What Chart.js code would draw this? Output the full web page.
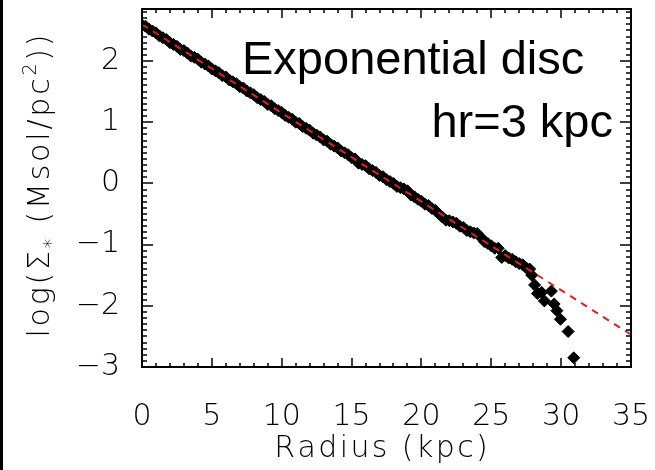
<!DOCTYPE html>
<html>
<head>
<meta charset="utf-8">
<script src="https://cdn.jsdelivr.net/npm/chart.js@4/dist/chart.umd.min.js"></script>
<style>
html,body{margin:0;padding:0;background:#fff;}
#wrap{position:relative;width:655px;height:470px;}
#strip{position:absolute;left:0;top:0;width:3px;height:470px;background:#000;}
</style>
</head>
<body>
<div id="wrap"><canvas id="chart" width="655" height="470"></canvas><div id="strip"></div></div>
<script>
/* DATA */
const radius=[
0,0.25,0.5,0.75,1,1.25,1.5,1.75,2,2.25,2.5,2.75,3,3.25,3.5,3.75,4,4.25,4.5,4.75,
5,5.25,5.5,5.75,6,6.25,6.5,6.75,7,7.25,7.5,7.75,8,8.25,8.5,8.75,9,9.25,9.5,9.75,
10,10.25,10.5,10.75,11,11.25,11.5,11.75,12,12.25,12.5,12.75,13,13.25,13.5,13.75,14,14.25,14.5,14.75,
15,15.25,15.5,15.75,16,16.25,16.5,16.75,17,17.25,17.5,17.75,18,18.25,18.5,18.75,19,19.25,19.5,19.75,
20,20.25,20.5,20.75,21,21.25,21.5,21.75,22,22.25,22.5,22.75,23,23.25,23.5,23.75,24,24.25,24.5,24.75,
25,25.25,25.5,25.75,26,26.25,26.5,26.75,27,27.25,27.5,27.75,
27.9,28.1,28.3,28.6,28.8,29.3,29.5,29.7,29.95,30.5,30.9
];
const logSigma=[
2.59,2.57,2.52,2.49,2.46,2.41,2.38,2.35,2.30,2.27,2.24,2.19,2.17,2.13,2.08,2.06,2.03,1.98,1.95,1.92,
1.87,1.84,1.81,1.76,1.74,1.69,1.66,1.63,1.58,1.56,1.51,1.48,1.45,1.40,1.37,1.34,1.29,1.27,1.22,1.19,
1.16,1.11,1.08,1.05,1.00,0.98,0.93,0.90,0.87,0.82,0.79,0.76,0.71,0.69,0.64,0.61,0.58,0.53,0.50,0.47,
0.42,0.40,0.33,0.31,0.29,0.24,0.21,0.18,0.13,0.11,0.06,0.03,0.00,-0.05,-0.07,-0.09,-0.12,-0.19,-0.22,-0.26,
-0.29,-0.34,-0.36,-0.41,-0.44,-0.50,-0.55,-0.60,-0.61,-0.63,-0.65,-0.70,-0.72,-0.77,-0.79,-0.81,-0.82,-0.88,-0.95,-0.98,
-1.02,-1.06,-1.06,-1.21,-1.18,-1.22,-1.24,-1.28,-1.31,-1.33,-1.38,-1.40,
-1.50,-1.66,-1.80,-1.78,-1.92,-1.76,-1.97,-2.08,-2.22,-2.42,-2.85
];
const fitRadius=[0,35];
const fitLogSigma=[2.6,-2.47];
const xTicks=[0,5,10,15,20,25,30,35];
const yTicks=[-3,-2,-1,0,1,2];

const tickFont={family:"'DejaVu Sans'",size:30,weight:200};

/* draw text char by char with extra spacing */
function spaced(ctx,parts,spacing){
let w=0;
parts.forEach(p=>{
ctx.font=`200 ${p[1]}px 'DejaVu Sans'`;
for(const ch of p[0]) w+=ctx.measureText(ch).width+spacing;
});
w-=spacing;
let x=-w/2;
parts.forEach(p=>{
ctx.font=`200 ${p[1]}px 'DejaVu Sans'`;
for(const ch of p[0]){
ctx.fillText(ch,x,p[2]);
x+=ctx.measureText(ch).width+spacing;
}
});
}

const frame={
id:"frame",
afterDatasetsDraw(chart){
const {ctx,chartArea:a,scales:{x,y}}=chart;
ctx.save();
ctx.strokeStyle="#000";
ctx.lineWidth=1.5;
ctx.beginPath();
for(let v=0;v<=35;v++){
const px=Math.round(x.getPixelForValue(v));
const len=v%5?4:9;
ctx.moveTo(px,a.bottom);ctx.lineTo(px,a.bottom-len);
ctx.moveTo(px,a.top);ctx.lineTo(px,a.top+len);
}
for(let i=-30;i<=28;i++){
const py=Math.round(y.getPixelForValue(i/10));
const len=i%10?5:11;
ctx.moveTo(a.left,py);ctx.lineTo(a.left+len,py);
ctx.moveTo(a.right,py);ctx.lineTo(a.right-len,py);
}
ctx.stroke();
ctx.lineWidth=2;
ctx.strokeRect(a.left,a.top,a.right-a.left,a.bottom-a.top);
ctx.restore();
},
afterDraw(chart){
const {ctx,chartArea:a}=chart;
ctx.save();
ctx.fillStyle="#000";
ctx.textBaseline="alphabetic";
/* x title */
ctx.save();
ctx.translate(381,457);
spaced(ctx,[["Radius (kpc)",30,0]],2.4);
ctx.restore();
/* y title */
ctx.save();
ctx.translate(49,186);
ctx.rotate(-Math.PI/2);
spaced(ctx,[["log(\u03A3",30,0],["*",19,8],[" (Msol/pc",30,0],["2",19,-13],["))",30,0]],2.8);
ctx.restore();
/* labels */
ctx.font="47px 'Liberation Sans', Arial, sans-serif";
ctx.textAlign="left";
ctx.fillText("Exponential disc",242,74);
ctx.textAlign="right";
ctx.fillText("hr=3 kpc",613,137);
ctx.restore();
}
};

new Chart(document.getElementById("chart"),{
type:"scatter",
data:{
datasets:[
{
label:"fit",
data:fitRadius.map((r,i)=>({x:r,y:fitLogSigma[i]})),
showLine:true,
borderColor:"#e3201c",
borderWidth:2,
borderDash:[7,6],
pointRadius:0,
order:0,
clip:0
},
{
label:"profile",
data:radius.map((r,i)=>({x:r,y:logSigma[i]})),
pointStyle:"rectRot",
pointRadius:6,
backgroundColor:"#000",
borderColor:"#000",
borderWidth:1,
order:1,
clip:0
}
]
},
options:{
responsive:false,
animation:false,
devicePixelRatio:1,
layout:{padding:{top:9,right:24,left:0,bottom:0}},
plugins:{legend:{display:false},tooltip:{enabled:false}},
scales:{
x:{
type:"linear",
min:0,max:35,
afterBuildTicks:s=>{s.ticks=xTicks.map(v=>({value:v}));},
afterFit:s=>{s.height=103;s.paddingLeft=0;s.paddingRight=0;},
grid:{display:false},
border:{display:false},
ticks:{color:"#000",font:tickFont,padding:24,maxRotation:0,autoSkip:false}
},
y:{
type:"linear",
min:-3,max:2.85,
afterBuildTicks:s=>{s.ticks=yTicks.map(v=>({value:v}));},
afterFit:s=>{s.width=142;s.paddingTop=0;s.paddingBottom=0;},
grid:{display:false},
border:{display:false},
ticks:{color:"#000",font:tickFont,padding:14,callback:v=>v<0?"\u2212"+(-v):String(v)}
}
}
},
plugins:[frame]
});
</script>
</body>
</html>
